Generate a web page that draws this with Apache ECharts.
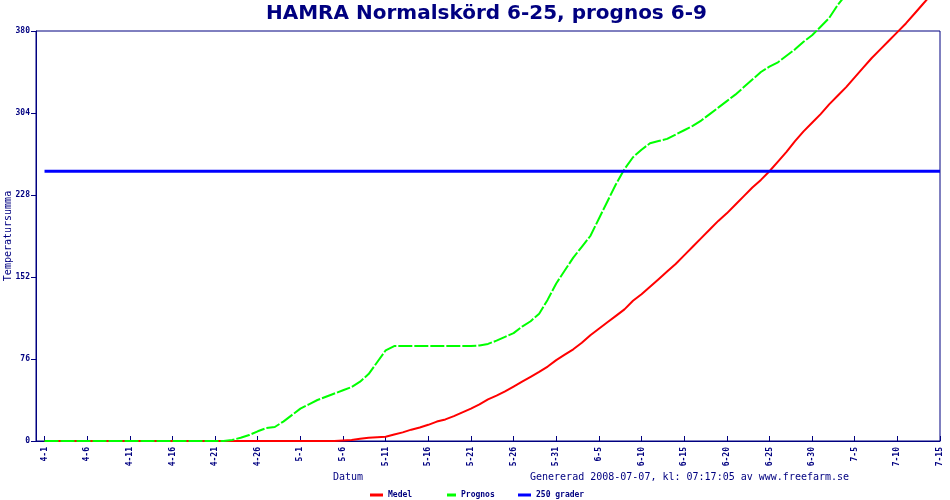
<!DOCTYPE html>
<html>
<head>
<meta charset="utf-8">
<script src="https://cdn.jsdelivr.net/npm/echarts@6/dist/echarts.min.js"></script>
<style>html,body{margin:0;padding:0;background:#fff}#c{width:950px;height:500px}</style>
</head>
<body>
<div id="c"></div>
<script>
// Dates on the x axis (3-31 is an empty lead-in slot)
var categories = ['3-31',
 '4-1','4-2','4-3','4-4','4-5','4-6','4-7','4-8','4-9','4-10','4-11','4-12','4-13','4-14','4-15','4-16','4-17','4-18','4-19','4-20','4-21','4-22','4-23','4-24','4-25','4-26','4-27','4-28','4-29','4-30',
 '5-1','5-2','5-3','5-4','5-5','5-6','5-7','5-8','5-9','5-10','5-11','5-12','5-13','5-14','5-15','5-16','5-17','5-18','5-19','5-20','5-21','5-22','5-23','5-24','5-25','5-26','5-27','5-28','5-29','5-30','5-31',
 '6-1','6-2','6-3','6-4','6-5','6-6','6-7','6-8','6-9','6-10','6-11','6-12','6-13','6-14','6-15','6-16','6-17','6-18','6-19','6-20','6-21','6-22','6-23','6-24','6-25','6-26','6-27','6-28','6-29','6-30',
 '7-1','7-2','7-3','7-4','7-5','7-6','7-7','7-8','7-9','7-10','7-11','7-12','7-13','7-14','7-15'];
var labelTicks = ['4-1','4-6','4-11','4-16','4-21','4-26','5-1','5-6','5-11','5-16','5-21','5-26','5-31','6-5','6-10','6-15','6-20','6-25','6-30','7-5','7-10','7-15'];

// Medel, daily from 4-1 to 7-15
var medel = [0,0,0,0,0,0,0,0,0,0,0,0,0,0,0,0,0,0,0,0,0,0,0,0,0,0,0,0,0,0,0,0,0,0,0,
 0.5,1,2,3,3.5,4,6,8,10.5,12.5,15,18,20,23,26.5,30,34,38.5,42,46,50.5,55,59.5,64,69,
 75,80,85,91,98,104,110,116,122,130,136,143,150,157,164,172,180,188,196,204,
 211,219,227,235,242,250,259,268,278,287,295,303,312,320,328,337,346,355,363,371,
 379,387,396,405,414,422];

// Prognos, daily from 4-1 to 7-5
var prognos = [0,0,0,0,0,0,0,0,0,0,0,0,0,0,0,0,0,0,0,0,0,0,
 1,3,5.5,9,12,13,18,24,30,34,38,41,44,47,50,55,62,73,84,88,
 88,88,88,88,88,88,88,88,88,88.5,90,93,96.5,100,106,111,118,131,
 146,158,170,180,190,206,222,238,252,263,270,276,278,280,284,288,292,297,303,309,
 315,321,328,335,342,347,351,357,363,370,376,384,392,404,414];

var threshold = 250;
var yTicks = [0, 76, 152, 228, 304, 380];
var firstDay = '4-1', lastDay = '7-15';

var navy = '#000080';
var mono = '"DejaVu Sans Mono", monospace';

function fromFirst(arr) {
  var start = categories.indexOf(firstDay);
  return arr.map(function (v, i) { return [categories[start + i], v]; });
}

var chart = echarts.init(document.getElementById('c'), null, {renderer: 'canvas'});
var tickSet = {};
labelTicks.forEach(function (t) { tickSet[t] = true; });
function showTick(idx, val) { return !!tickSet[categories[idx]]; }

chart.setOption({
  animation: false,
  backgroundColor: '#fff',
  grid: {left: 36, right: 10, top: 31, bottom: 59, show: true, borderColor: navy, borderWidth: 1,
         containLabel: false, outerBoundsMode: 'none'},
  xAxis: {
    type: 'category', data: categories, boundaryGap: false,
    axisLine: {lineStyle: {color: navy, width: 1}},
    axisTick: {inside: true, length: 5, interval: showTick, lineStyle: {color: navy}},
    axisLabel: {interval: showTick, rotate: 90, margin: 6, color: navy, fontFamily: mono, fontSize: 8, fontWeight: 'bold'},
    splitLine: {show: false}
  },
  yAxis: {
    type: 'value', min: yTicks[0], max: yTicks[yTicks.length - 1], interval: yTicks[1] - yTicks[0],
    name: 'Temperatursumma', nameLocation: 'middle', nameGap: 23, nameRotate: 90, nameMoveOverlap: false,
    nameTextStyle: {color: navy, fontFamily: mono, fontSize: 10},
    axisLine: {show: true, lineStyle: {color: navy, width: 1}},
    axisTick: {show: true, length: 5, lineStyle: {color: navy}},
    axisLabel: {margin: 6, color: navy, fontFamily: mono, fontSize: 8, fontWeight: 'bold'},
    splitLine: {show: false}
  },
  legend: [
    {data: ['Medel'], left: 365, top: 486, icon: 'rect', itemWidth: 13, itemHeight: 3,
     textStyle: {color: navy, fontFamily: mono, fontSize: 8, fontWeight: 'bold'}},
    {data: ['Prognos'], left: 442, top: 486, icon: 'rect', itemWidth: 9, itemHeight: 3,
     textStyle: {color: navy, fontFamily: mono, fontSize: 8, fontWeight: 'bold'}},
    {data: ['250 grader'], left: 513, top: 486, icon: 'rect', itemWidth: 13, itemHeight: 3,
     textStyle: {color: navy, fontFamily: mono, fontSize: 8, fontWeight: 'bold'}}
  ],
  graphic: [
    {type: 'text', left: 266, top: 4, style: {text: 'HAMRA Normalskörd 6-25, prognos 6-9', fill: navy,
      font: 'bold 20px "DejaVu Sans", sans-serif'}},
    {type: 'text', left: 333, top: 472, style: {text: 'Datum', fill: navy, font: '10px ' + mono}},
    {type: 'text', left: 530, top: 472, style: {text: 'Genererad 2008-07-07, kl: 07:17:05 av www.freefarm.se', fill: navy, font: '10px ' + mono}}
  ],
  series: [
    {name: 'Medel', type: 'line', data: fromFirst(medel), showSymbol: false, clip: false,
     itemStyle: {color: '#ff0000'}, lineStyle: {color: '#ff0000', width: 2}},
    {name: 'Prognos', type: 'line', data: fromFirst(prognos), showSymbol: false, clip: false,
     itemStyle: {color: '#00ff00'}, lineStyle: {color: '#00ff00', width: 2, type: [14, 2]}},
    {name: '250 grader', type: 'line', data: [[firstDay, threshold], [lastDay, threshold]], showSymbol: false, clip: false,
     itemStyle: {color: '#0000ff'}, lineStyle: {color: '#0000ff', width: 3}}
  ]
});
</script>
</body>
</html>
